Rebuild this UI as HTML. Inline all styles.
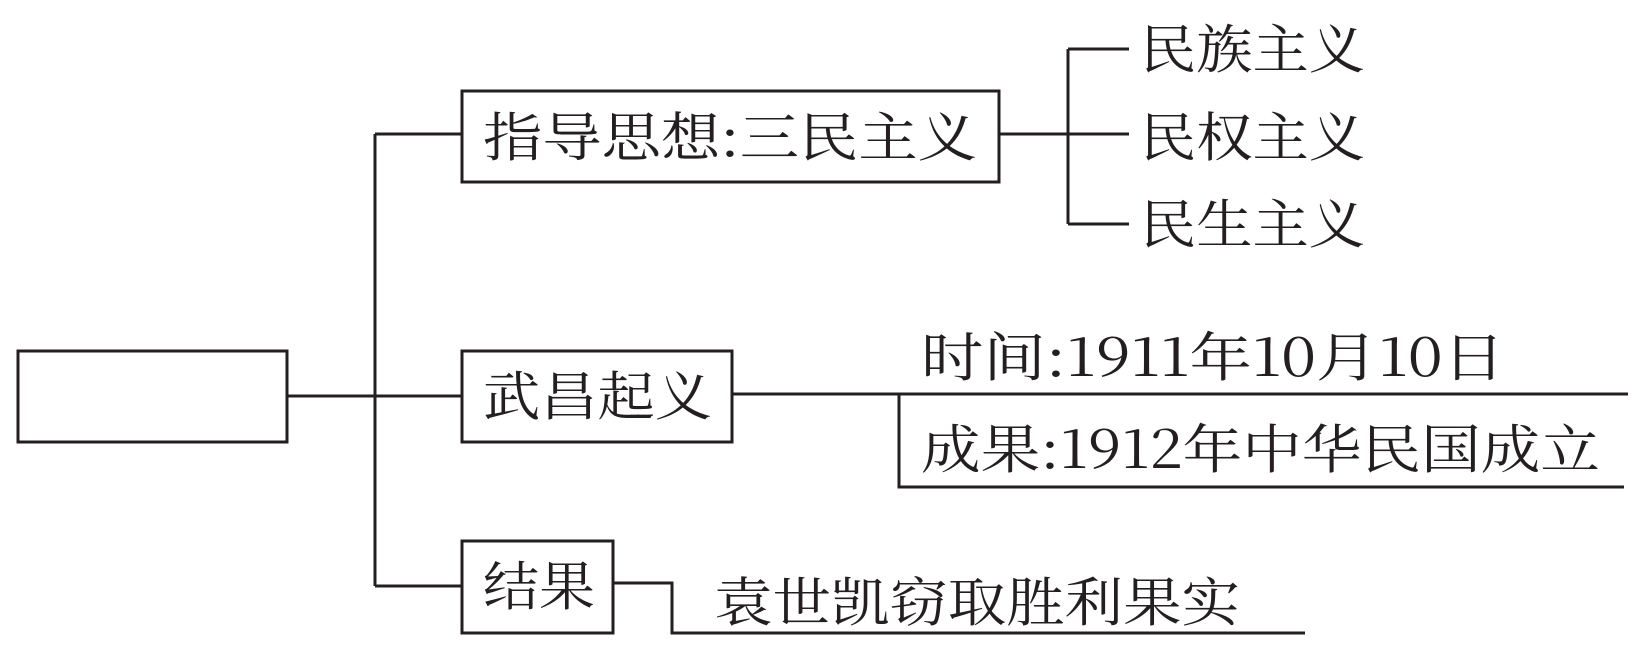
<!DOCTYPE html>
<html><head><meta charset="utf-8"><style>html,body{margin:0;padding:0;background:#fff}</style></head>
<body>
<svg width="1647" height="660" viewBox="0 0 1647 660" xmlns="http://www.w3.org/2000/svg" style="display:block">
<g fill="none" stroke="#231f20" stroke-width="3">
<rect x="18" y="351" width="269" height="91"/>
<rect x="462" y="91" width="537" height="91"/>
<rect x="462" y="351" width="270" height="91"/>
<rect x="462" y="541" width="151" height="92"/>
<path d="M287 396H462M375 134V586M375 134H462M375 586H462"/>
<path d="M999 134H1129M1068 49V224M1068 49H1129M1068 224H1129"/>
<path d="M732 394H1628M899 394V487H1624"/>
<path d="M613 583H672V633H1305"/>
</g>
<g font-family="'Noto Serif CJK SC','Liberation Serif',serif" font-size="53" fill="#231f20">
<text x="483" y="156" textLength="494" lengthAdjust="spacingAndGlyphs">指导思想:三民主义</text>
<text x="1140" y="68" textLength="225" lengthAdjust="spacingAndGlyphs">民族主义</text>
<text x="1140" y="156" textLength="225" lengthAdjust="spacingAndGlyphs">民权主义</text>
<text x="1140" y="243" textLength="225" lengthAdjust="spacingAndGlyphs">民生主义</text>
<text x="483" y="415" textLength="229" lengthAdjust="spacingAndGlyphs">武昌起义</text>
<text x="921" y="376" textLength="584" lengthAdjust="spacingAndGlyphs">时间:1911年10月10日</text>
<text x="921" y="468" textLength="679" lengthAdjust="spacingAndGlyphs">成果:1912年中华民国成立</text>
<text x="483" y="605" textLength="112" lengthAdjust="spacingAndGlyphs">结果</text>
<text x="714" y="621" textLength="526" lengthAdjust="spacingAndGlyphs">袁世凯窃取胜利果实</text>
</g>
</svg>
</body></html>
